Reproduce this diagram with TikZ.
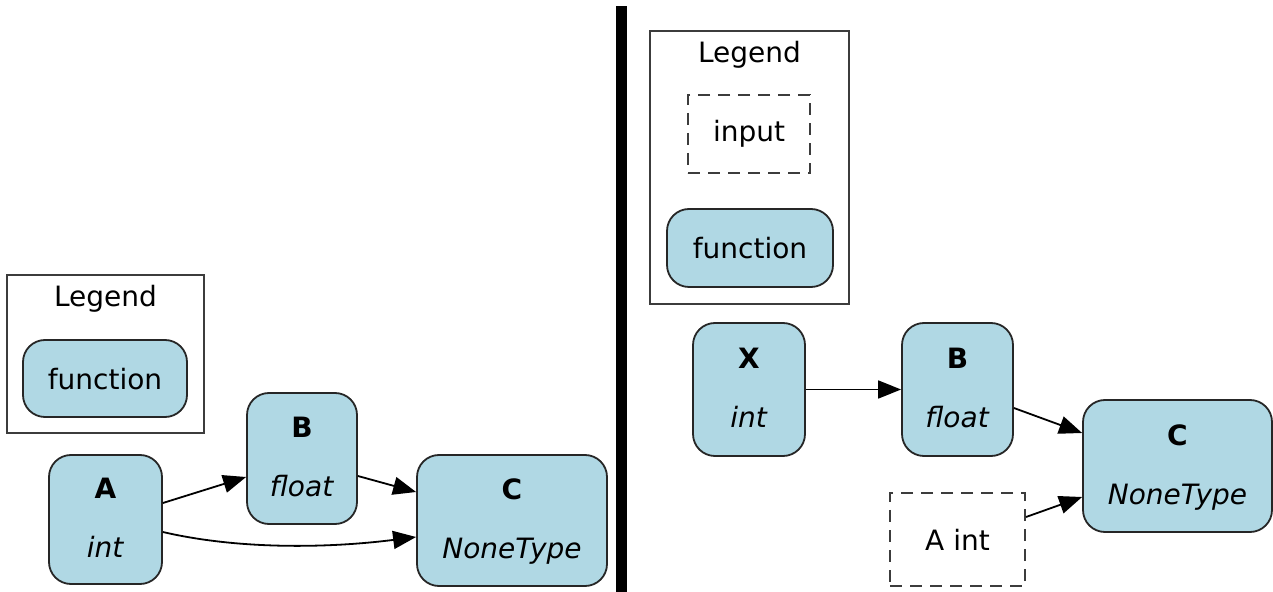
\documentclass[tikz,border=0pt]{standalone}
\usepackage{fontspec}
\setmainfont{DejaVu Sans}
\usetikzlibrary{arrows.meta}
\definecolor{nodefill}{RGB}{176,216,228}
\definecolor{boxline}{RGB}{60,60,60}
\tikzset{
  fn/.style={draw=black!85, line width=0.9pt, fill=nodefill, rounded corners=11pt,
    align=center, inner sep=0pt, text depth=1.5pt, font=\fontsize{14}{29.5}\selectfont},
  inp/.style={draw=boxline, line width=1pt, dash pattern=on 6pt off 4pt,
    align=center, inner sep=0pt, font=\fontsize{14}{17}\selectfont},
  legendbox/.style={draw=boxline, line width=1pt},
  title/.style={font=\fontsize{14}{17}\selectfont, inner sep=0pt},
  edge/.style={draw=black, line width=0.9pt, -{Triangle[length=11.5pt,width=9pt]}}
}
\begin{document}
\begin{tikzpicture}[x=0.5pt,y=-0.5pt]
\useasboundingbox (0,0) rectangle (1273,592);
% separator
\fill[black] (616,6) rectangle (627,592);

% ---------- left panel ----------
\draw[legendbox] (7,275) rectangle (204,433);
\node[title] (lleg) at (105.5,299) {Legend};
\node[fn, text depth=0pt, minimum width=82pt, minimum height=38.5pt] (lfunc) at (105,378.5) {function};

\node[fn, minimum width=56.5pt, minimum height=64.5pt] (A) at (105.5,519.5) {\textbf{A}\\\textit{int}};
\node[fn, minimum width=55pt, minimum height=65.5pt] (B) at (302,458.5) {\textbf{B}\\\textit{float}};
\node[fn, minimum width=95pt, minimum height=65.5pt] (C) at (512,520.5) {\textbf{C}\\\textit{NoneType}};

\draw[edge] ([shift={(0,-16.5)}]A.east) -- ([shift={(0,18.5)}]B.west);
\draw[edge] ([shift={(0,17.5)}]B.east) -- ([shift={(0,-28.5)}]C.west);
\draw[edge] ([shift={(0,12.5)}]A.east) .. controls (240,550) and (330,548) .. ([shift={(0,16.5)}]C.west);

% ---------- right panel ----------
\draw[legendbox] (650,31) rectangle (849,304);
\node[title] (rleg) at (749.5,55) {Legend};
\node[inp, minimum width=61pt, minimum height=39pt] (rinp) at (749,134) {input};
\node[fn, text depth=0pt, minimum width=83pt, minimum height=39pt] (rfunc) at (750,248) {function};

\node[fn, minimum width=56pt, minimum height=66.5pt] (X) at (749,389.5) {\textbf{X}\\\textit{int}};
\node[fn, minimum width=55.5pt, minimum height=66.5pt] (B2) at (957.5,389.5) {\textbf{B}\\\textit{float}};
\node[fn, minimum width=94.5pt, minimum height=66pt] (C2) at (1177.5,466) {\textbf{C}\\\textit{NoneType}};
\node[inp, minimum width=67.5pt, minimum height=46.5pt] (Ain) at (957.5,539.5) {A int};

\draw[edge] (X.east) -- (B2.west);
\draw[edge] ([shift={(0,18.5)}]B2.east) -- ([shift={(0,-33)}]C2.west);
\draw[edge] ([shift={(0,-22.5)}]Ain.east) -- ([shift={(0,31)}]C2.west);
\end{tikzpicture}
\end{document}
